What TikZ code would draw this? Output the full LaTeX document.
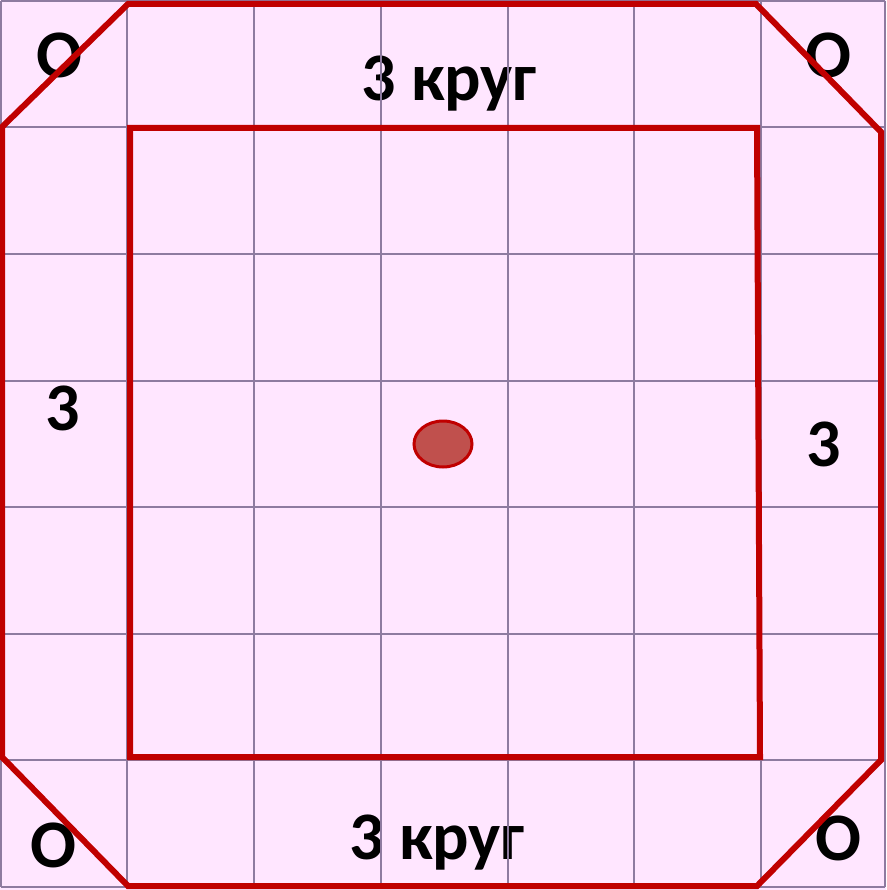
\documentclass[tikz,border=0pt]{standalone}
\usepackage{fontspec}
\setmainfont{Carlito}
\usetikzlibrary{shapes.geometric}
\definecolor{bgpink}{HTML}{FFE6FF}
\definecolor{gridc}{HTML}{8E7BA0}
\definecolor{redline}{HTML}{C00000}
\definecolor{dotfill}{HTML}{C0504D}
\tikzset{
  gridline/.style={draw=gridc, line width=1.8pt},
  redpath/.style={draw=redline, line width=6pt, line join=miter, line cap=round},
  lbl/.style={font=\fontsize{68}{70}\selectfont\bfseries, text=black, inner sep=0pt},
}
\begin{document}
\begin{tikzpicture}[x=1pt,y=-1pt]
\useasboundingbox (0,0) rectangle (886,890);
\fill[bgpink] (0,0) rectangle (886,890);
% labels
\node[lbl] (otl) at (59,55) {O};
\node[lbl] (otr) at (828,55) {O};
\node[lbl] (obl) at (53,845) {O};
\node[lbl] (obr) at (838,838) {O};
\node[lbl] (ktop) at (449,84) {3 круг};
\node[lbl] (kbot) at (437,843) {3 круг};
\node[lbl] (zl) at (63,408) {3};
\node[lbl] (zr) at (824,444) {3};
% grid
\foreach \x in {1,127,254,381,508,634,761,885} \draw[gridline] (\x,1) -- (\x,887);
\foreach \y in {1,127,254,381,507,634,760,887} \draw[gridline] (1,\y) -- (885,\y);
% outer octagon
\draw[redpath] (128,4) -- (756,4) -- (881,132) -- (881,760) -- (757,886)
  -- (128,886) -- (2,757) -- (2,127) -- cycle;
% inner rectangle
\draw[redpath] (130,128) -- (757,128) -- (760,757) -- (130,757) -- cycle;
% centre dot
\node[ellipse, draw=redline, fill=dotfill, line width=3pt,
      minimum width=58pt, minimum height=46pt, inner sep=0pt] (dot) at (443,444) {};
\end{tikzpicture}
\end{document}
